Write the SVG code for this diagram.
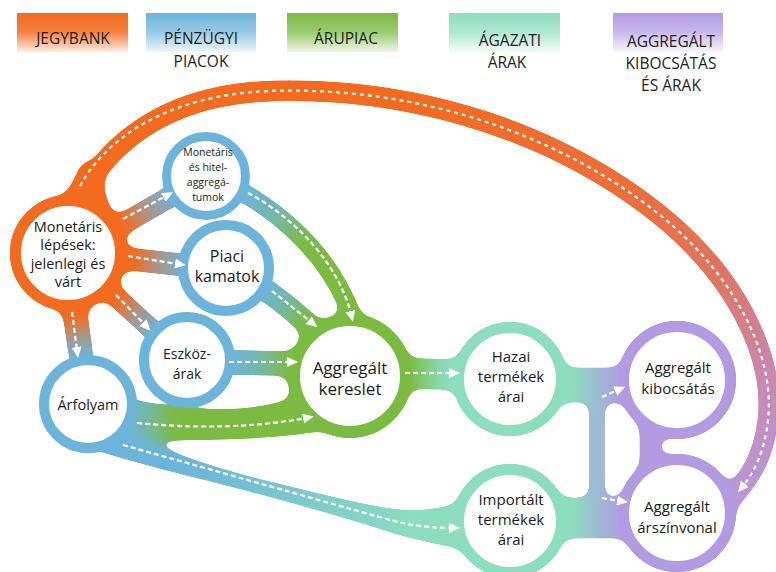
<svg xmlns="http://www.w3.org/2000/svg" width="776" height="572" viewBox="0 0 776 572">
  <style>
    .hdr { font-family: "Open Sans", Lato, sans-serif; font-size: 15.5px; fill: #1e1e1e; text-anchor: middle; }
    .lbl { font-family: "Open Sans", Lato, sans-serif; fill: #1c1c1c; text-anchor: middle; }
    .band { fill: none; stroke-linecap: butt; }
    .dash { fill: none; stroke: #fff; stroke-width: 2.2; stroke-dasharray: 5 3; marker-end: url(#ah); }
    .dash-arc { fill: none; stroke: #fff; stroke-width: 2.2; stroke-dasharray: 4 4; marker-end: url(#ah); }
    .ring { fill: #fff; }
  </style>
  <defs>
    <!-- soft-merge filter: blur then sharpen alpha so bands flow into the rings -->
    <filter id="goo" filterUnits="userSpaceOnUse" x="0" y="0" width="776" height="572" color-interpolation-filters="sRGB">
      <feGaussianBlur stdDeviation="6.5"/>
      <feColorMatrix type="matrix" values="1 0 0 0 0  0 1 0 0 0  0 0 1 0 0  0 0 0 24 -11"/>
    </filter>
    <marker id="ah" viewBox="0 0 11 10" refX="3" refY="5" markerWidth="11" markerHeight="10" markerUnits="userSpaceOnUse" orient="auto">
      <path d="M0,0 L11,5 L0,10 Z" fill="#fff"/>
    </marker>

    <!-- header box fills -->
    <linearGradient id="hOrange" x1="0" y1="0" x2="0" y2="1">
      <stop offset="0" stop-color="#F26B1F"/><stop offset="0.5" stop-color="#F26B1F" stop-opacity="0.85"/><stop offset="1" stop-color="#F26B1F" stop-opacity="0.12"/>
    </linearGradient>
    <linearGradient id="hBlue" x1="0" y1="0" x2="0" y2="1">
      <stop offset="0" stop-color="#6CB4DA"/><stop offset="0.5" stop-color="#6CB4DA" stop-opacity="0.7"/><stop offset="1" stop-color="#6CB4DA" stop-opacity="0.12"/>
    </linearGradient>
    <linearGradient id="hGreen" x1="0" y1="0" x2="0" y2="1">
      <stop offset="0" stop-color="#7CBB42"/><stop offset="0.5" stop-color="#7CBB42" stop-opacity="0.75"/><stop offset="1" stop-color="#7CBB42" stop-opacity="0.12"/>
    </linearGradient>
    <linearGradient id="hMint" x1="0" y1="0" x2="0" y2="1">
      <stop offset="0" stop-color="#8DDDBF"/><stop offset="0.5" stop-color="#8DDDBF" stop-opacity="0.7"/><stop offset="1" stop-color="#8DDDBF" stop-opacity="0.1"/>
    </linearGradient>
    <linearGradient id="hPurple" x1="0" y1="0" x2="0" y2="1">
      <stop offset="0" stop-color="#B39BE2"/><stop offset="0.5" stop-color="#B39BE2" stop-opacity="0.7"/><stop offset="1" stop-color="#B39BE2" stop-opacity="0.1"/>
    </linearGradient>

    <!-- band fills -->
    <linearGradient id="gArc" gradientUnits="userSpaceOnUse" x1="400" y1="100" x2="760" y2="500">
      <stop offset="0" stop-color="#F26B1F"/><stop offset="0.42" stop-color="#EC6E3A"/><stop offset="0.62" stop-color="#DF745E"/><stop offset="0.82" stop-color="#CC86A8"/><stop offset="1" stop-color="#B59BDF"/>
    </linearGradient>
    <linearGradient id="gB1" gradientUnits="userSpaceOnUse" x1="100" y1="237" x2="178" y2="192">
      <stop offset="0" stop-color="#F26B1F"/><stop offset="0.3" stop-color="#F26B1F"/><stop offset="0.6" stop-color="#A8978E"/><stop offset="1" stop-color="#6CB4DA"/>
    </linearGradient>
    <linearGradient id="gB2" href="#gB1" gradientUnits="userSpaceOnUse" x1="112" y1="257" x2="188" y2="265"/>
    <linearGradient id="gB3" href="#gB1" gradientUnits="userSpaceOnUse" x1="102" y1="284" x2="158" y2="335"/>
    <linearGradient id="gB4" href="#gB1" gradientUnits="userSpaceOnUse" x1="73" y1="302" x2="82" y2="358"/>
    <linearGradient id="gB6" gradientUnits="userSpaceOnUse" x1="245" y1="196" x2="300" y2="248">
      <stop offset="0" stop-color="#6CB4DA"/><stop offset="0.5" stop-color="#76B8A2"/><stop offset="1" stop-color="#7CBB42"/>
    </linearGradient>
    <linearGradient id="gB7" href="#gB6" gradientUnits="userSpaceOnUse" x1="262" y1="290" x2="305" y2="322"/>
    <linearGradient id="gB8" href="#gB6" gradientUnits="userSpaceOnUse" x1="232" y1="362" x2="290" y2="362"/>
    <linearGradient id="gB9" href="#gB6" gradientUnits="userSpaceOnUse" x1="126" y1="420" x2="172" y2="420"/>
    <linearGradient id="gB10" gradientUnits="userSpaceOnUse" x1="175" y1="460" x2="420" y2="525">
      <stop offset="0" stop-color="#6CB4DA"/><stop offset="1" stop-color="#8DDDBF"/>
    </linearGradient>
    <linearGradient id="gB11" gradientUnits="userSpaceOnUse" x1="408" y1="373" x2="445" y2="373">
      <stop offset="0" stop-color="#7CBB42"/><stop offset="1" stop-color="#8DDDBF"/>
    </linearGradient>
    <linearGradient id="gMP" gradientUnits="userSpaceOnUse" x1="575" y1="0" x2="622" y2="0">
      <stop offset="0" stop-color="#8DDDBF"/><stop offset="0.5" stop-color="#9DB9D4"/><stop offset="1" stop-color="#B39BE2"/>
    </linearGradient>
  </defs>

  <rect width="776" height="572" fill="#fff"/>

  <!-- column headers -->
  <g id="header">
    <rect x="17" y="13" width="111" height="39" fill="url(#hOrange)"/>
    <rect x="146" y="13" width="110" height="39" fill="url(#hBlue)"/>
    <rect x="287" y="13" width="111" height="39" fill="url(#hGreen)"/>
    <rect x="449" y="13" width="111" height="39" fill="url(#hMint)"/>
    <rect x="613" y="13" width="110" height="39" fill="url(#hPurple)"/>
    <text class="hdr" x="73" y="44">JEGYBANK</text>
    <text class="hdr" x="201" y="44">PÉNZÜGYI</text>
    <text class="hdr" x="201" y="67">PIACOK</text>
    <text class="hdr" x="346" y="44">ÁRUPIAC</text>
    <text class="hdr" x="510" y="46">ÁGAZATI</text>
    <text class="hdr" x="507" y="68">ÁRAK</text>
    <text class="hdr" x="671" y="47">AGGREGÁLT</text>
    <text class="hdr" x="671" y="69">KIBOCSÁTÁS</text>
    <text class="hdr" x="671" y="91">ÉS ÁRAK</text>
  </g>

  <!-- flowing bands between the rings (merged by the goo filter) -->
  <g id="flow-bands" filter="url(#goo)">
    <path class="band" d="M 72,220 C 95,150 160,95 270,91 C 420,86 560,135 660,215 C 740,280 775,360 768,420 C 764,455 752,478 725,505" stroke="url(#gArc)" stroke-width="20"/>
    <path d="M 38,218 Q 70,200 82,160 L 104,170 Q 100,200 122,226 Z" fill="#F26B1F"/>
    <path class="band" d="M 95,240 L 182,190" stroke="url(#gB1)" stroke-width="21"/>
    <path class="band" d="M 110,257 L 192,266" stroke="url(#gB2)" stroke-width="22"/>
    <path class="band" d="M 100,282 L 160,337" stroke="url(#gB3)" stroke-width="20"/>
    <path class="band" d="M 73,300 L 82,362" stroke="url(#gB4)" stroke-width="24"/>
    <path class="band" d="M 235,188 C 285,215 335,260 355,325" stroke="url(#gB6)" stroke-width="18"/>
    <path class="band" d="M 255,283 Q 290,305 322,338" stroke="url(#gB7)" stroke-width="22"/>
    <path class="band" d="M 215,362 L 305,364" stroke="url(#gB8)" stroke-width="24"/>
    <path d="M 118,396 C 170,410 250,418 300,395 L 330,428 C 290,440 200,440 118,440 Z" fill="url(#gB9)"/>
    <path d="M 125,428 C 150,445 200,465 267,481 C 320,494 370,507 400,510 C 425,512 445,508 462,502 L 470,550 C 440,545 420,540 400,535 C 370,525 320,510 267,496 C 200,478 130,462 80,445 Z" fill="url(#gB10)"/>
    <path class="band" d="M 395,373 L 465,375" stroke="url(#gB11)" stroke-width="30"/>
    <path class="band" d="M 555,385 L 630,385" stroke="url(#gMP)" stroke-width="34"/>
    <path class="band" d="M 555,518 L 630,518" stroke="url(#gMP)" stroke-width="40"/>
    <path class="band" d="M 597,380 L 597,520" stroke="url(#gMP)" stroke-width="15"/>
    <path class="band" d="M 650,420 L 650,475" stroke="#B39BE2" stroke-width="20"/>
    <!-- ring footprints (kept a little inside the rings so neighbours stay apart) -->
    <circle cx="68" cy="253" r="58" fill="#F26B1F"/>
    <circle cx="206" cy="176" r="36" fill="#6CB4DA"/>
    <circle cx="226" cy="268" r="40" fill="#6CB4DA"/>
    <circle cx="187" cy="360" r="40" fill="#6CB4DA"/>
    <circle cx="88" cy="404" r="41" fill="#6CB4DA"/>
    <circle cx="350" cy="376" r="62" fill="#7CBB42"/>
    <circle cx="510" cy="379" r="57" fill="#8DDDBF"/>
    <circle cx="510" cy="521" r="57" fill="#8DDDBF"/>
    <circle cx="677" cy="380" r="59" fill="#B39BE2"/>
    <circle cx="677" cy="513" r="59" fill="#B39BE2"/>
  </g>

  <!-- nodes -->
  <g id="monetaris-lepesek">
    <circle class="ring" cx="68" cy="253" r="52.5" stroke="#F26B1F" stroke-width="11"/>
    <text class="lbl" font-size="14.5"><tspan x="68" y="232">Monetáris</tspan><tspan x="68" y="250">lépések:</tspan><tspan x="68" y="269">jelenlegi és</tspan><tspan x="68" y="287">várt</tspan></text>
  </g>
  <g id="hitelaggregatumok">
    <circle class="ring" cx="206" cy="176" r="39.5" stroke="#6CB4DA" stroke-width="9"/>
    <text class="lbl" font-size="10.5"><tspan x="208" y="156">Monetáris</tspan><tspan x="208" y="171">és hitel-</tspan><tspan x="208" y="186">aggregá-</tspan><tspan x="208" y="201">tumok</tspan></text>
  </g>
  <g id="piaci-kamatok">
    <circle class="ring" cx="226" cy="268" r="43" stroke="#6CB4DA" stroke-width="10"/>
    <text class="lbl" font-size="16"><tspan x="227" y="262">Piaci</tspan><tspan x="227" y="282">kamatok</tspan></text>
  </g>
  <g id="eszkozarak">
    <circle class="ring" cx="187" cy="360" r="43" stroke="#6CB4DA" stroke-width="10"/>
    <text class="lbl" font-size="14"><tspan x="187" y="359">Eszköz-</tspan><tspan x="187" y="379">árak</tspan></text>
  </g>
  <g id="arfolyam">
    <circle class="ring" cx="88" cy="404" r="44" stroke="#6CB4DA" stroke-width="10"/>
    <text class="lbl" font-size="14.5" x="88" y="410">Árfolyam</text>
  </g>
  <g id="aggregalt-kereslet">
    <circle class="ring" cx="350" cy="376" r="56" stroke="#7CBB42" stroke-width="12"/>
    <text class="lbl" font-size="17"><tspan x="350" y="374">Aggregált</tspan><tspan x="350" y="395">kereslet</tspan></text>
  </g>
  <g id="hazai-termekek-arai">
    <circle class="ring" cx="510" cy="379" r="51.5" stroke="#8DDDBF" stroke-width="11"/>
    <text class="lbl" font-size="15"><tspan x="511" y="362">Hazai</tspan><tspan x="511" y="382">termékek</tspan><tspan x="511" y="402">árai</tspan></text>
  </g>
  <g id="importalt-termekek-arai">
    <circle class="ring" cx="510" cy="521" r="51.5" stroke="#8DDDBF" stroke-width="11"/>
    <text class="lbl" font-size="15"><tspan x="511" y="505">Importált</tspan><tspan x="511" y="525">termékek</tspan><tspan x="511" y="545">árai</tspan></text>
  </g>
  <g id="aggregalt-kibocsatas">
    <circle class="ring" cx="677" cy="380" r="53.5" stroke="#B39BE2" stroke-width="11"/>
    <text class="lbl" font-size="15"><tspan x="678" y="373">Aggregált</tspan><tspan x="678" y="394">kibocsátás</tspan></text>
  </g>
  <g id="aggregalt-arszinvonal">
    <circle class="ring" cx="677" cy="513" r="53.5" stroke="#B39BE2" stroke-width="11"/>
    <text class="lbl" font-size="15"><tspan x="677" y="512">Aggregált</tspan><tspan x="677" y="533">árszínvonal</tspan></text>
  </g>

  <!-- transmission arrows -->
  <g id="connectors">
    <path class="dash" d="M 123,219 L 166,196"/>
    <path class="dash" d="M 128,256 L 178,264"/>
    <path class="dash" d="M 116,295 L 145,325"/>
    <path class="dash" d="M 72,312 L 77,350"/>
    <path class="dash-arc" d="M 80,186 C 105,140 165,95 270,91 C 420,86 560,135 660,215 C 740,280 775,360 768,420 C 765,448 756,470 743,486"/>
    <path class="dash" d="M 248,193 C 292,216 338,262 351,314"/>
    <path class="dash" d="M 272,291 L 311,322"/>
    <path class="dash" d="M 229,362 L 290,362"/>
    <path class="dash" d="M 137,423 Q 230,432 306,418"/>
    <path class="dash" d="M 123,445 L 390,520 Q 420,528 452,528"/>
    <path class="dash" d="M 405,373 L 452,373"/>
    <path class="dash" d="M 602,397 L 618,390"/>
    <path class="dash" d="M 602,498 L 620,501"/>
  </g>
</svg>
